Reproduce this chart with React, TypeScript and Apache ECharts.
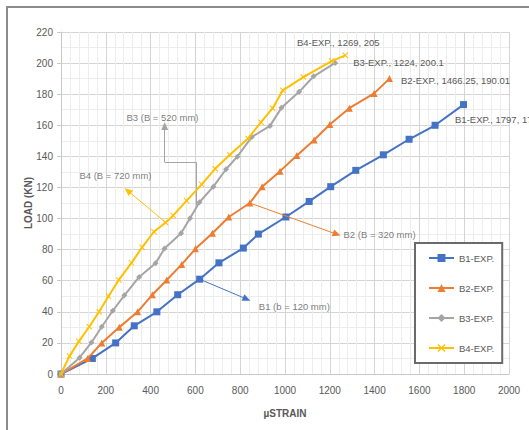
import React, { useEffect, useRef } from "react";
import * as echarts from "echarts";

// Load–strain readings for the four beams (µstrain, kN)
const b1Strain = [0, 140, 244, 327, 428, 521, 619, 705, 814, 881, 1004, 1108, 1204, 1316, 1439, 1554, 1670, 1797];
const b1Load = [0, 10, 20, 31, 40, 51, 61, 71.5, 81, 90, 101, 111, 120.5, 131, 141, 151, 160, 173.3];

const b2Strain = [0, 119, 182, 260, 342, 408, 472, 539, 600, 676, 749, 843, 898, 978, 1053, 1130, 1200, 1287, 1398, 1466.25];
const b2Load = [0, 10, 20, 30, 40, 51, 60.5, 70.5, 80.5, 90.5, 101, 110, 120.5, 130.5, 140.5, 150.5, 160.5, 171, 180.5, 190.01];

const b3Strain = [0, 83, 136, 182, 231, 283, 349, 422, 462, 536, 576, 618, 680, 737, 787, 852, 933, 984, 1063, 1128, 1224];
const b3Load = [0, 10.5, 20.3, 30.4, 40.7, 50.6, 62.4, 71.2, 80.7, 90.5, 100.2, 110.5, 120.5, 131.7, 139.8, 152.5, 159.6, 171.2, 181.5, 191.5, 200.1];

const b4Strain = [0, 38, 80, 126, 170, 212, 258, 315, 362, 415, 467, 501, 561, 628, 688, 754, 835, 893, 945, 990, 1082, 1208, 1269];
const b4Load = [0, 11.5, 21, 30.4, 40, 50, 60.5, 71.5, 81.5, 91.5, 97.5, 102, 111.5, 122, 132, 141, 151.5, 162, 171, 182.5, 191, 201.3, 205];

const seriesNames = ["B1-EXP.", "B2-EXP.", "B3-EXP.", "B4-EXP."];
const colors = ["#4472C4", "#ED7D31", "#A5A5A5", "#FFC000"];

// Callout texts and their anchor points (strain, load)
const noteTexts = ["B1 (b = 120 mm)", "B2 (B = 320 mm)", "B3 (B = 520 mm)", "B4 (B = 720 mm)"];
const notePos: [number, number][] = [[881, 43.3], [1259, 89.9], [290, 165.3], [80, 127.4]];

// Leader lines: [from, to] in data units; last segment carries the arrow
const b1Leader: [number, number][] = [[619, 61], [829, 48.2]];
const b2Leader: [number, number][] = [[843, 110], [1231, 89.9]];
const b3Leader: [number, number][] = [[606, 108.5], [606, 136.2], [463, 136.2], [463, 159.5]];
const b4Leader: [number, number][] = [[467, 97.5], [298, 117.9]];

const FONT = "'Liberation Sans Narrow', 'Liberation Sans', Arial, sans-serif";
const TEXT = "#595959";
// thin "x" marker
const CROSS = "path://M0,0.12 L0.12,0 L0.5,0.38 L0.88,0 L1,0.12 L0.62,0.5 L1,0.88 L0.88,1 L0.5,0.62 L0.12,1 L0,0.88 L0.38,0.5 Z";

function zip(xs: number[], ys: number[]) {
  return xs.map((x, i) => [x, ys[i]]);
}

function withEndLabel(pts: number[][], label: any) {
  return pts.map((p, i) =>
    i === pts.length - 1
      ? {
          value: p,
          label: {
            show: true,
            formatter: (prm: any) => `${prm.seriesName}, ${prm.value[0]}, ${prm.value[1]}`,
            color: TEXT,
            fontFamily: FONT,
            fontSize: 9.5,
            ...label,
          },
        }
      : p
  );
}

function leaderLines(pts: [number, number][], color: string) {
  const segs: any[] = [];
  for (let i = 0; i < pts.length - 1; i++) {
    const last = i === pts.length - 2;
    segs.push([
      { coord: pts[i], symbol: "none", lineStyle: { color, width: 1, type: "solid" } },
      { coord: pts[i + 1], symbol: last ? "triangle" : "none" },
    ]);
  }
  return segs;
}

export default function App() {
  const ref = useRef<HTMLDivElement>(null);

  useEffect(() => {
    if (!ref.current) return;
    const chart = echarts.init(ref.current, null, { renderer: "svg" });

    const lineSeries = (idx: number, pts: number[][], symbol: string, size: number, label: any) => ({
      name: seriesNames[idx],
      type: "line",
      data: withEndLabel(pts, label),
      symbol,
      symbolSize: size,
      showAllSymbol: true,
      color: colors[idx],
      lineStyle: { width: 2, color: colors[idx] },
      itemStyle: { color: colors[idx] },
      z: 3 + idx,
    });

    const axisText = { color: TEXT, fontFamily: FONT, fontSize: 10 };

    chart.setOption({
      animation: false,
      backgroundColor: "#ffffff",
      textStyle: { fontFamily: FONT },
      graphic: [
        {
          type: "rect",
          shape: { x: 7, y: 7, width: 700, height: 700 },
          style: { fill: "none", stroke: "#8c8c8c", lineWidth: 2 },
          silent: true,
        },
      ],
      grid: { left: 61, right: 20, top: 32, bottom: 56 },
      legend: {
        data: seriesNames,
        orient: "vertical",
        left: 415,
        top: 243,
        padding: [10, 8, 10, 13],
        itemGap: 20,
        itemWidth: 25,
        itemHeight: 10,
        borderColor: "#6b6b6b",
        borderWidth: 2,
        backgroundColor: "#ffffff",
        textStyle: { color: TEXT, fontFamily: FONT, fontSize: 9.5 },
      },
      xAxis: {
        type: "value",
        min: 0,
        max: 2000,
        interval: 200,
        name: "µSTRAIN",
        nameLocation: "middle",
        nameGap: 34,
        nameTextStyle: { ...axisText, fontWeight: "bold" },
        axisLine: { show: true, lineStyle: { color: "#c8c8c8" } },
        axisTick: { show: false },
        axisLabel: { ...axisText, margin: 11, formatter: (v: number) => String(v) },
        splitLine: { show: true, lineStyle: { color: "#d4d4d4", width: 1 } },
        minorTick: { show: false, splitNumber: 5 },
        minorSplitLine: { show: true, lineStyle: { color: "#ededed", width: 1 } },
      },
      yAxis: {
        type: "value",
        min: 0,
        max: 220,
        interval: 20,
        name: "LOAD (KN)",
        nameLocation: "middle",
        nameGap: 28,
        nameMoveOverlap: false,
        nameTextStyle: { ...axisText, fontWeight: "bold" },
        axisLine: { show: true, lineStyle: { color: "#c8c8c8" } },
        axisTick: { show: true, length: 4, lineStyle: { color: "#c8c8c8" } },
        axisLabel: { ...axisText, margin: 8, formatter: (v: number) => String(v) },
        splitLine: { show: true, lineStyle: { color: "#d4d4d4", width: 1 } },
        minorTick: { show: false, splitNumber: 2 },
        minorSplitLine: { show: true, lineStyle: { color: "#ededed", width: 1 } },
      },
      series: [
        lineSeries(0, zip(b1Strain, b1Load), "rect", 7, { position: "right", offset: [-17, 15] }),
        lineSeries(1, zip(b2Strain, b2Load), "triangle", 7, { position: "right", offset: [3, 2] }),
        lineSeries(2, zip(b3Strain, b3Load), "diamond", 6, { position: "right", offset: [10, 0] }),
        lineSeries(3, zip(b4Strain, b4Load), CROSS, 6, { position: "top", offset: [-7, 0] }),
        {
          name: "leaders",
          type: "line",
          data: [],
          silent: true,
          markLine: {
            silent: true,
            animation: false,
            symbolSize: [7, 8],
            label: { show: false },
            emphasis: { disabled: true },
            data: [
              ...leaderLines(b1Leader, colors[0]),
              ...leaderLines(b2Leader, colors[1]),
              ...leaderLines(b3Leader, colors[2]),
              ...leaderLines(b4Leader, colors[3]),
            ],
          },
          z: 2,
        },
        {
          name: "notes",
          type: "scatter",
          silent: true,
          symbolSize: 1,
          itemStyle: { color: "rgba(0,0,0,0)" },
          data: noteTexts.map((t, i) => ({ name: t, value: notePos[i] })),
          label: {
            show: true,
            position: "right",
            distance: 0,
            formatter: "{b}",
            color: TEXT,
            fontFamily: FONT,
            fontSize: 9.5,
          },
          labelLayout: { hideOverlap: false },
          z: 6,
        },
      ],
    });

    return () => chart.dispose();
  }, []);

  return (
    <div
      ref={ref}
      style={{ position: "fixed", left: 0, top: 0, width: 529, height: 430 }}
    />
  );
}
